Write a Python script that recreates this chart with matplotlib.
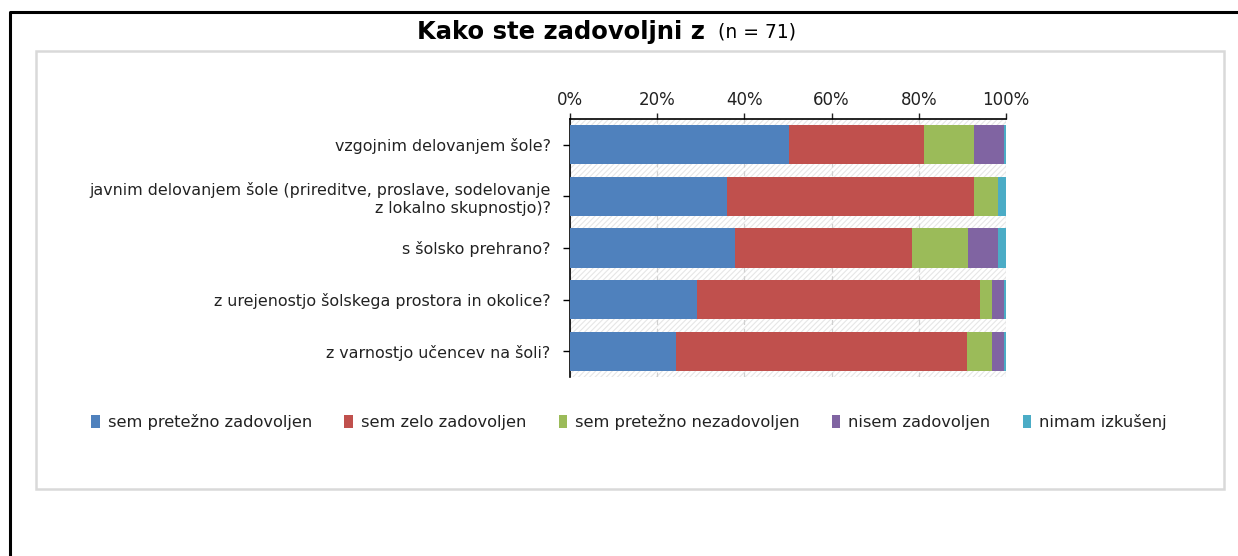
import matplotlib
matplotlib.use("Agg")
import matplotlib.pyplot as plt
from matplotlib.patches import Rectangle, Patch
from matplotlib.lines import Line2D
import numpy as np

plt.rcParams['font.family'] = ['DejaVu Sans']
plt.rcParams['hatch.linewidth'] = 0.8

categories = [
    "vzgojnim delovanjem šole?",
    "javnim delovanjem šole (prireditve, proslave, sodelovanje\nz lokalno skupnostjo)?",
    "s šolsko prehrano?",
    "z urejenostjo šolskega prostora in okolice?",
    "z varnostjo učencev na šoli?",
]
series_names = ["sem pretežno zadovoljen", "sem zelo zadovoljen",
                "sem pretežno nezadovoljen", "nisem zadovoljen", "nimam izkušenj"]
pretezno_zad = [50.3, 36.1, 37.8, 29.2, 24.4]
zelo_zad = [31.0, 56.6, 40.7, 64.8, 66.6]
pretezno_nezad = [11.4, 5.5, 12.8, 2.8, 5.8]
nisem_zad = [6.8, 0.0, 6.9, 2.7, 2.7]
nimam_izk = [0.5, 1.8, 1.8, 0.5, 0.5]
xtick_vals = [0, 20, 40, 60, 80, 100]
xtick_labels = ["0%", "20%", "40%", "60%", "80%", "100%"]

colors = ["#4f81bd", "#c0504d", "#9bbb59", "#8064a2", "#4bacc6"]
series = [pretezno_zad, zelo_zad, pretezno_nezad, nisem_zad, nimam_izk]

W, H = 1238, 556
fig = plt.figure(figsize=(W / 100, H / 100), dpi=100)
fig.patch.set_facecolor("white")

# outer black border (top + left)
fig.add_artist(Line2D([10 / W, 10 / W, 1.0], [0.0, 1 - 12 / H, 1 - 12 / H],
                      transform=fig.transFigure, color="black", lw=2.2))
# inner gray frame
fig.add_artist(Rectangle((36 / W, 1 - 489 / H), (1224 - 36) / W, (489 - 51) / H,
                         transform=fig.transFigure, facecolor="none",
                         edgecolor="#d9d9d9", lw=1.8))

# title
fig.text(705 / W, 1 - 32 / H, "Kako ste zadovoljni z", ha="right", va="center",
         fontsize=17.5, fontweight="heavy")
fig.text(718 / W, 1 - 32 / H, "(n = 71)", ha="left", va="center", fontsize=13.5)

ax = fig.add_axes([570 / W, 1 - 377 / H, (1006 - 570) / W, (377 - 119) / H])
ax.patch.set_facecolor("white")
ax.add_patch(Rectangle((0, 0), 1, 1, transform=ax.transAxes, facecolor="none",
                       edgecolor="#e6e6e6", hatch="//////", lw=0, zorder=0))

y = np.arange(len(categories))
left = np.zeros(len(categories))
for vals, c, name in zip(series, colors, series_names):
    ax.barh(y, vals, left=left, height=0.76, color=c, label=name, zorder=3)
    left += np.array(vals)

ax.set_xlim(0, 100)
ax.set_ylim(len(categories) - 0.5, -0.5)
ax.set_yticks(y)
ax.set_yticklabels(categories, fontsize=11.4, color="#222222")
ax.set_xticks(xtick_vals)
ax.set_xticklabels(xtick_labels, fontsize=12, color="#222222")
ax.xaxis.tick_top()
ax.tick_params(axis="x", direction="out", length=4, width=1, pad=3, colors="#222222")
ax.tick_params(axis="y", direction="out", length=5, width=1, pad=9)
for lbl in ax.get_yticklabels():
    lbl.set_multialignment("right")
ax.grid(axis="x", color="#d0d0d0", linestyle=(0, (4, 3)), lw=0.9, zorder=1)
ax.set_axisbelow(True)
for s in ["right", "bottom"]:
    ax.spines[s].set_visible(False)
ax.spines["top"].set_linewidth(1.2)
ax.spines["left"].set_linewidth(1.2)

handles = [Patch(facecolor=c, edgecolor="none") for c in colors]
fig.legend(handles, series_names, loc="center", bbox_to_anchor=(629 / W, 1 - 422 / H),
           ncol=5, frameon=False, fontsize=11.7, handlelength=0.5, handleheight=0.9,
           handletextpad=0.5, columnspacing=2.0, labelcolor="#222222")

fig.savefig("out.png", dpi=100)
